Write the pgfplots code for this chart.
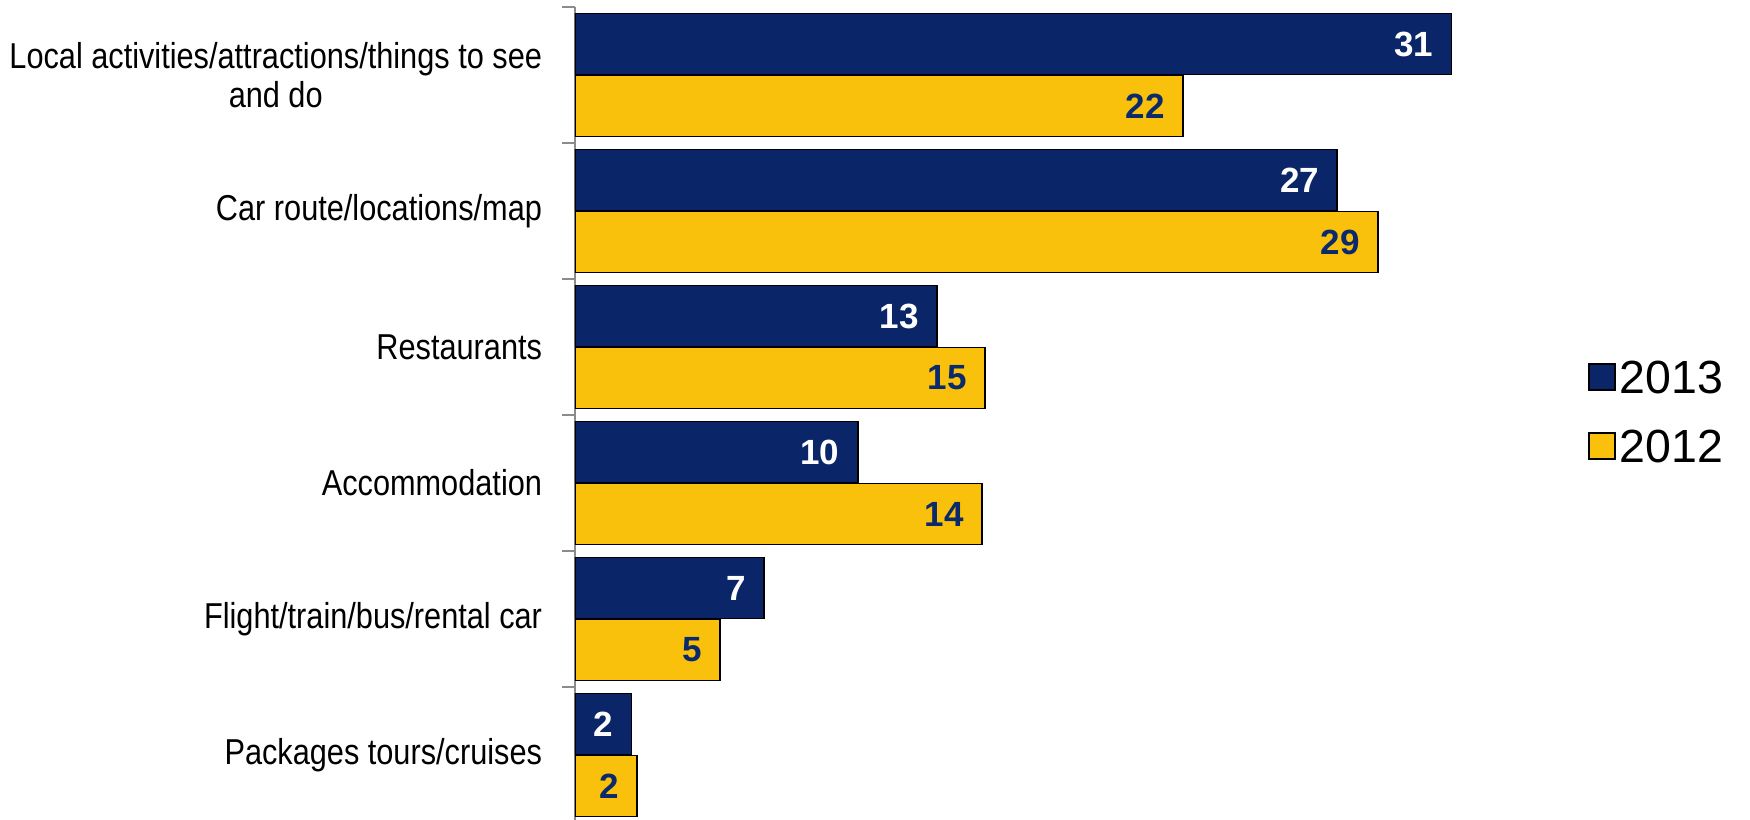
\documentclass[border=0pt]{standalone}
\usepackage{pgfplots}
\pgfplotsset{compat=1.18}
\usepackage{fontspec}
\setmainfont{Liberation Sans}
\newfontfamily\catfont[FakeStretch=0.853]{Liberation Sans}
\definecolor{navy}{HTML}{0B2569}
\definecolor{gold}{HTML}{F9C10B}
\definecolor{labnavy}{HTML}{0B2A6B}
\definecolor{axgray}{HTML}{8C8C8C}
\begin{document}
\begin{tikzpicture}
\begin{axis}[
  xbar, scale only axis,
  width=364.2pt, height=326.4pt,
  xmin=0, xmax=32.2, ymin=-0.5, ymax=5.5,
  hide x axis,
  axis y line*=left,
  y axis line style={axgray, line width=0.8pt, -},
  ytick={0,1,2,3,4,5},
  yticklabels={Packages tours/cruises, Flight/train/bus/rental car, Accommodation, Restaurants, Car route/locations/map, {Local activities/attractions/things to see\\and do}},
  major tick length=0pt,
  minor ytick={-0.5,0.5,1.5,2.5,3.5,4.5,5.5},
  minor tick length=5pt,
  tick align=outside,
  minor tick style={axgray, line width=0.9pt},
  y tick label style={font=\catfont\fontsize{14.4}{15.5}\selectfont, align=center, anchor=east, inner sep=0pt, xshift=-13pt},
  bar width=24.4pt,
  nodes near coords,
  point meta=explicit symbolic,
  every node near coord/.append style={anchor=east, inner sep=0pt, xshift=-7pt, font=\bfseries\fontsize{14}{14}\selectfont},
  legend image code/.code={\draw[#1, line width=0.9pt] (0pt,-5.2pt) rectangle (10.4pt,5.2pt);},
  legend style={draw=none, fill=none, at={(axis description cs:1.112,0.504)}, anchor=west,
    inner sep=0pt, font=\fontsize{18.6}{18.6}\selectfont, row sep=11.6pt,
    nodes={inner sep=1.5pt, text height=13pt, text depth=0pt}},
  legend cell align=left,
]
\addplot[fill=navy, draw=black, line width=0.7pt, bar shift=12.4pt,
  every node near coord/.append style={text=white}]
  coordinates {(31.0,5) [31] (26.96,4) [27] (12.8,3) [13] (10.0,2) [10] (6.68,1) [7] (2.0,0) [2]};
\addlegendentry{2013}
\addplot[fill=gold, draw=black, line width=0.7pt, bar shift=-12.4pt,
  every node near coord/.append style={text=labnavy}]
  coordinates {(21.5,5) [22] (28.4,4) [29] (14.5,3) [15] (14.4,2) [14] (5.13,1) [5] (2.2,0) [2]};
\addlegendentry{2012}
\coordinate (O) at (rel axis cs:0,0);
\end{axis}
\pgfresetboundingbox
\path ([shift={(-230pt,1.2pt)}]O) rectangle ([shift={(470pt,329.2pt)}]O);
\end{tikzpicture}
\end{document}
